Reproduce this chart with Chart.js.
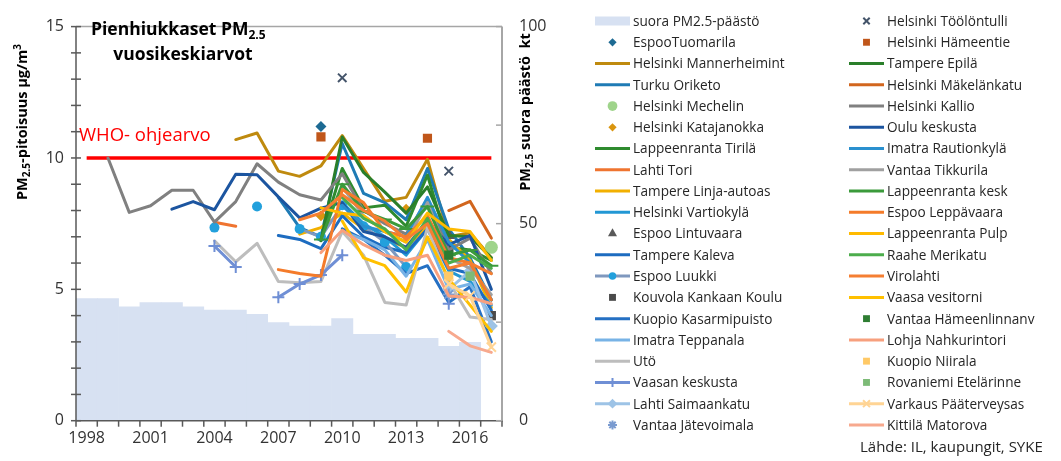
<!DOCTYPE html>
<html>
<head>
<meta charset="utf-8">
<script src="https://cdn.jsdelivr.net/npm/chart.js@4.4.0/dist/chart.umd.min.js"></script>
<style>
  html, body { margin: 0; padding: 0; background: #fff; }
</style>
</head>
<body>
<canvas id="c" width="1061" height="461"></canvas>
<script>
const FONT = '"Open Sans", "Noto Sans", sans-serif';

const years = ['1998', '1999', '2000', '2001', '2002', '2003', '2004', '2005', '2006', '2007',
  '2008', '2009', '2010', '2011', '2012', '2013', '2014', '2015', '2016', '2017'];

// suora PM2.5-päästö, kt (right axis)
const emission = [31.0, 31.0, 28.9, 30.0, 30.0, 28.9, 28.1, 28.1, 27.0, 24.9,
  24.0, 24.0, 25.9, 21.9, 21.9, 20.9, 20.9, 18.9, 19.9, null];

// WHO guideline, µg/m3
const who = years.map(() => 10);

// pad a run of yearly values starting at `start` into the full year range
function from(start, vals) {
  const out = years.map(() => null);
  vals.forEach((v, i) => { out[start - 1998 + i] = v; });
  return out;
}

// annual means, µg/m3
const espooTuomarila = from(2009, [11.2]);
const mannerheimint = from(2005, [10.7, 10.95, 9.5, 9.3, 9.7, 10.85, 9.6, 8.35, 8.5, 9.95, 7.0, 7.15, 6.2]);
const turkuOriketo = from(2007, [8.5, 7.35, 7.0, 10.55, 8.65, 8.3, 7.65, 9.6, 7.3, 6.2, 4.6]);
const mechelin = from(2017, [6.6]);
const katajanokka = from(2009, [7.8, null, null, null, 8.05]);
const tirila = from(2009, [6.9, 9.6, 8.1, 8.2, 7.4, 9.35, 6.6, 6.5, 6.1]);
const lahtiTori = from(2004, [7.55, 7.4]);
const tampereLinja = from(2008, [7.1, 7.35, 7.9, 7.3, 6.9, 6.6, 7.4, 6.9, 6.1, 4.3]);
const vartiokyla = from(2010, [8.3, 7.5, 7.0, 6.3, 7.3, 5.7, 5.3, 4.4]);
const lintuvaara = from(2015, [7.05]);
const tampereKaleva = from(2007, [7.05, 6.9, 6.55, 7.8, 7.0, 6.6, 6.4, 7.3, 5.8, 5.6, 4.2]);
const espooLuukki = from(2004, [7.35, null, 8.15, null, 7.3, 7.0, 8.2, 7.4, 6.8, 5.85]);
const kouvola = from(2015, [6.5, null, 4.0]);
const kuopioKasarmi = from(2010, [7.3, 6.9, 6.3, 5.6, 5.9, 4.5, 5.1, 3.0]);
const imatraTeppanala = from(2010, [7.2, 6.9, 6.5, 5.5, 6.9, 5.0, 5.2, 4.0]);
const uto = from(2004, [6.85, 6.05, 6.75, 5.3, 5.25, 5.3, 7.2, 6.3, 4.5, 4.4, 7.35, 5.3, 3.95, 3.85]);
const vaasanKeskusta = from(2004, [6.65, 5.85, null, 4.7, 5.2, 5.55, 6.3, null, null, null, null, 4.45]);
const saimaankatu = from(2015, [5.0, 5.7, 3.6]);
const jatevoimala = from(2015, [4.8]);
const toolontulli = from(2010, [13.05, null, null, null, null, 9.5]);
const hameentie = from(2009, [10.8, null, null, null, null, 10.75]);
const epila = from(2009, [6.85, 10.8, 9.45, 8.7, 7.9, 8.9, 7.05, 7.0, 6.2]);
const makelankatu = from(2015, [8.0, 8.35, 6.95]);
const kallio = from(1999, [10.0, 7.93, 8.18, 8.77, 8.77, 7.56, 8.34, 9.78, 9.08, 8.6, 8.4, 9.4, 8.0, 7.5, 7.1, 8.4, 6.5, 6.95, 5.6]);
const oulu = from(2002, [8.05, 8.34, 8.03, 9.38, 9.36, 8.52, 7.72, 8.09, 8.3, 7.2, 7.0, 6.6, 7.6, 6.7, 7.05, 5.0]);
const imatraRautio = from(2010, [8.2, 7.4, 7.2, 7.0, 8.5, 6.8, 6.0, 4.6]);
const tikkurila = from(2010, [8.9, 7.8, 7.2, 6.8, 8.3, 6.2, 5.8, 4.8]);
const lappeenrantaKesk = from(2009, [6.9, 9.0, 7.97, 7.66, 7.3, 8.15, 6.3, 6.5, 5.9]);
const leppavaara = from(2007, [5.75, 5.6, 5.5, 8.8, 8.3, 7.2, 7.0, 7.8, 6.2, 6.0, 4.6]);
const lappeenrantaPulp = from(2009, [8.1, 7.9, 7.8, 7.2, 6.8, 7.9, 7.3, 7.2, 6.1]);
const raahe = from(2010, [8.5, 7.7, 7.3, 6.5, 7.7, 6.0, 6.3, 5.8]);
const virolahti = from(2008, [7.65, 7.9, 8.6, 8.0, 7.6, 6.9, 7.5, 5.8, 6.0, 5.6]);
const vaasaVesitorni = from(2010, [7.6, 6.2, 5.9, 4.9, 7.0, 5.4, 4.4, 3.4]);
const hameenlinnanv = from(2015, [6.3]);
const lohja = from(2009, [6.4, 7.25, 6.7, 6.3, 6.1, 6.3, 4.75, 4.7, 4.45]);
const niirala = from(2015, [5.5]);
const rovaniemi = from(2016, [5.5]);
const varkaus = from(2015, [5.2, 4.75, 2.8]);
const kittila = from(2015, [3.4, 2.85, 2.6]);

// label, values, look (line: false -> markers only)
const stations = [
  ['EspooTuomarila', espooTuomarila, { color: '#1d6a93', line: false, marker: 'rectRot', r: 5.5 }],
  ['Helsinki Mannerheimint', mannerheimint, { color: '#bf8a0e' }],
  ['Turku Oriketo', turkuOriketo, { color: '#1f7bb5' }],
  ['Helsinki Mechelin', mechelin, { color: '#9fd48b', line: false, marker: 'circle', r: 6.5 }],
  ['Helsinki Katajanokka', katajanokka, { color: '#d9950f', line: false, marker: 'rectRot', r: 5.5 }],
  ['Lappeenranta Tirilä', tirila, { color: '#2f8b2f' }],
  ['Lahti Tori', lahtiTori, { color: '#ef7430' }],
  ['Tampere Linja-autoas', tampereLinja, { color: '#f2b000' }],
  ['Helsinki Vartiokylä', vartiokyla, { color: '#2297d4' }],
  ['Espoo Lintuvaara', lintuvaara, { color: '#595959', line: false, marker: 'triangle', r: 7 }],
  ['Tampere Kaleva', tampereKaleva, { color: '#1d6cc0' }],
  ['Espoo Luukki', espooLuukki, { color: '#7f98be', marker: 'circle', r: 5, mcolor: '#22a0dc' }],
  ['Kouvola Kankaan Koulu', kouvola, { color: '#4a4a4a', line: false, marker: 'rect', r: 6.5 }],
  ['Kuopio Kasarmipuisto', kuopioKasarmi, { color: '#2570c3' }],
  ['Imatra Teppanala', imatraTeppanala, { color: '#78b3e6' }],
  ['Utö', uto, { color: '#bdbdbd' }],
  ['Vaasan keskusta', vaasanKeskusta, { color: '#6f8fd5', marker: 'cross', r: 6 }],
  ['Lahti Saimaankatu', saimaankatu, { color: '#9dc3e6', marker: 'rectRot', r: 6.5 }],
  ['Vantaa Jätevoimala', jatevoimala, { color: '#7a9bd0', line: false, marker: 'star', r: 6 }],
  ['Helsinki Töölöntulli', toolontulli, { color: '#44546a', line: false, marker: 'crossRot', r: 6 }],
  ['Helsinki Hämeentie', hameentie, { color: '#c0561a', line: false, marker: 'rect', r: 6.5 }],
  ['Tampere Epilä', epila, { color: '#2a7f2a' }],
  ['Helsinki Mäkelänkatu', makelankatu, { color: '#d2661e' }],
  ['Helsinki Kallio', kallio, { color: '#808080' }],
  ['Oulu keskusta', oulu, { color: '#1c55a0' }],
  ['Imatra Rautionkylä', imatraRautio, { color: '#2a90cf' }],
  ['Vantaa Tikkurila', tikkurila, { color: '#a0a0a0' }],
  ['Lappeenranta kesk', lappeenrantaKesk, { color: '#3b9a3b', marker: 'line', r: 7 }],
  ['Espoo Leppävaara', leppavaara, { color: '#f47b2a' }],
  ['Lappeenranta Pulp', lappeenrantaPulp, { color: '#ffba00' }],
  ['Raahe Merikatu', raahe, { color: '#4cad4c' }],
  ['Virolahti', virolahti, { color: '#f57f32' }],
  ['Vaasa vesitorni', vaasaVesitorni, { color: '#ffc000' }],
  ['Vantaa Hämeenlinnanv', hameenlinnanv, { color: '#2e7d32', line: false, marker: 'rect', r: 6.5 }],
  ['Lohja Nahkurintori', lohja, { color: '#f7a07e' }],
  ['Kuopio Niirala', niirala, { color: '#ffc966', line: false, marker: 'rect', r: 6.5 }],
  ['Rovaniemi Etelärinne', rovaniemi, { color: '#7dbb77', line: false, marker: 'rect', r: 6.5 }],
  ['Varkaus Pääterveysas', varkaus, { color: '#ffd494', marker: 'crossRot', r: 6.5 }],
  ['Kittilä Matorova', kittila, { color: '#f7a98e' }],
];

const stationSets = stations.map(([label, data, s], i) => {
  const stroked = ['cross', 'crossRot', 'star', 'line'].includes(s.marker);
  return {
    type: 'line',
    label,
    data,
    order: 60 - i,
    showLine: s.line !== false,
    spanGaps: false,
    borderColor: s.color,
    borderWidth: 3,
    borderJoinStyle: 'round',
    borderCapStyle: 'round',
    tension: 0,
    pointStyle: s.marker || 'circle',
    pointRadius: s.marker ? s.r : 0,
    pointHoverRadius: s.marker ? s.r : 0,
    pointBackgroundColor: s.mcolor || s.color,
    pointBorderColor: s.mcolor || s.color,
    pointBorderWidth: stroked ? 2 : 0,
  };
});

const datasets = [
  {
    type: 'bar',
    label: 'suora PM2.5-päästö',
    data: emission,
    yAxisID: 'y2',
    order: 200,
    backgroundColor: '#d7e1f2',
    barPercentage: 1,
    categoryPercentage: 1,
  },
  ...stationSets,
  {
    type: 'line',
    label: 'WHO',
    data: who,
    order: 150,
    borderColor: '#ff0000',
    borderWidth: 3.5,
    pointRadius: 0,
    noLegend: true,
  },
];

function drawParts(ctx, parts, x, y, align) {
  let total = 0;
  parts.forEach(p => {
    ctx.font = `${p.w || 'bold'} ${p.s}px ${FONT}`;
    total += ctx.measureText(p.t).width;
  });
  let cx = align === 'center' ? x - total / 2 : x;
  parts.forEach(p => {
    ctx.font = `${p.w || 'bold'} ${p.s}px ${FONT}`;
    ctx.fillText(p.t, cx, y + (p.dy || 0));
    cx += ctx.measureText(p.t).width;
  });
}

function line(ctx, x1, y1, x2, y2) {
  ctx.beginPath();
  ctx.moveTo(x1, y1);
  ctx.lineTo(x2, y2);
  ctx.stroke();
}

const decorations = {
  id: 'decorations',
  afterDatasetsDraw(chart) {
    const { ctx, chartArea: a, scales } = chart;
    ctx.save();
    // frame: top + right in grey, left + bottom darker
    ctx.lineWidth = 1.5;
    ctx.strokeStyle = '#a6a6a6';
    line(ctx, a.left, a.top, a.right, a.top);
    ctx.lineWidth = 2;
    line(ctx, a.right, a.top, a.right, a.bottom + 1);
    ctx.strokeStyle = '#595959';
    ctx.lineWidth = 1.5;
    line(ctx, a.left, a.top, a.left, a.bottom);
    line(ctx, a.left, a.bottom, a.right, a.bottom);
    for (let v = 0; v <= 15; v++) {
      const py = scales.y.getPixelForValue(v);
      line(ctx, a.left - 5, py, a.left + 5, py);
    }
    for (let i = 0; i <= years.length; i++) {
      const px = scales.x.getPixelForValue(i - 0.5);
      line(ctx, px, a.bottom, px, a.bottom + 6);
    }
    ctx.strokeStyle = '#a6a6a6';
    [0, 25, 50, 75, 100].forEach(v => {
      const py = scales.y2.getPixelForValue(v);
      line(ctx, a.right - 6, py, a.right, py);
    });
    ctx.restore();
  },
  afterDraw(chart) {
    const { ctx } = chart;
    ctx.save();
    ctx.textBaseline = 'alphabetic';
    ctx.fillStyle = '#000';
    // title
    drawParts(ctx, [{ t: 'Pienhiukkaset PM', s: 17.5 }, { t: '2.5', s: 12, dy: 4 }], 91, 35, 'left');
    drawParts(ctx, [{ t: 'vuosikeskiarvot', s: 17.5 }], 183, 60, 'center');
    // WHO label
    ctx.fillStyle = '#ff0000';
    drawParts(ctx, [{ t: 'WHO- ohjearvo', s: 18.5, w: 'normal' }], 79, 141, 'left');
    // axis titles
    ctx.fillStyle = '#000';
    ctx.save();
    ctx.translate(27, 122);
    ctx.rotate(-Math.PI / 2);
    drawParts(ctx, [
      { t: 'PM', s: 14.5 }, { t: '2.5', s: 10, dy: 3 },
      { t: '-pitoisuus µg/m', s: 14.5 }, { t: '3', s: 10, dy: -6 },
    ], 0, 0, 'center');
    ctx.restore();
    ctx.save();
    ctx.translate(530, 112);
    ctx.rotate(-Math.PI / 2);
    drawParts(ctx, [
      { t: 'PM', s: 14.5 }, { t: '2.5', s: 10, dy: 3 }, { t: ' suora päästö  kt', s: 14.5 },
    ], 0, 0, 'center');
    ctx.restore();

    // legend, two columns of twenty
    const cols = [595, 849];
    const items = chart.data.datasets.filter(d => !d.noLegend);
    ctx.textBaseline = 'middle';
    items.forEach((ds, k) => {
      const x0 = cols[Math.floor(k / 20)];
      const y = 21 + (k % 20) * 21.26;
      if (ds.type === 'bar') {
        ctx.fillStyle = ds.backgroundColor;
        ctx.fillRect(x0, y - 4.5, 35, 9);
      } else {
        if (ds.showLine) {
          ctx.strokeStyle = ds.borderColor;
          ctx.lineWidth = 3;
          line(ctx, x0, y, x0 + 35, y);
        }
        if (ds.pointRadius > 0) {
          ctx.fillStyle = ds.pointBackgroundColor;
          ctx.strokeStyle = ds.pointBorderColor;
          ctx.lineWidth = ds.pointBorderWidth || 1.5;
          Chart.helpers.drawPoint(ctx, {
            pointStyle: ds.pointStyle,
            radius: ds.pointStyle === 'line' ? 0 : ds.pointRadius * 0.75,
            rotation: 0,
            borderWidth: ds.pointBorderWidth,
          }, x0 + 17.5, y);
        }
      }
      ctx.fillStyle = '#262626';
      ctx.font = `13.6px ${FONT}`;
      ctx.fillText(ds.label, x0 + 38, y + 1);
    });
    ctx.fillStyle = '#262626';
    ctx.font = `15px ${FONT}`;
    ctx.fillText('Lähde: IL, kaupungit, SYKE', 860, 448);
    ctx.restore();
  },
};

new Chart(document.getElementById('c'), {
  type: 'bar',
  data: { labels: years, datasets },
  plugins: [decorations],
  options: {
    responsive: false,
    animation: false,
    events: [],
    layout: { padding: { left: 0, top: 14, right: 509, bottom: 12.3 } },
    plugins: {
      legend: { display: false },
      tooltip: { enabled: false },
    },
    scales: {
      x: {
        offset: true,
        grid: { display: false, drawTicks: false },
        border: { display: false },
        afterFit: s => { s.height = 28; },
        ticks: {
          autoSkip: false,
          maxRotation: 0,
          padding: 8,
          color: '#333',
          font: { family: FONT, size: 16 },
          callback: (v, i) => (i % 3 === 0 ? years[i] : ''),
        },
      },
      y: {
        position: 'left',
        min: 0,
        max: 15,
        grid: { display: false, drawTicks: false },
        border: { display: false },
        afterFit: s => { s.width = 76; },
        ticks: { stepSize: 5, padding: 12, color: '#333', font: { family: FONT, size: 16 } },
      },
      y2: {
        position: 'right',
        min: 0,
        max: 100,
        grid: { display: false, drawTicks: false },
        border: { display: false },
        afterFit: s => { s.width = 50; },
        ticks: { stepSize: 50, padding: 17, color: '#333', font: { family: FONT, size: 16 } },
      },
    },
  },
});
</script>
</body>
</html>
